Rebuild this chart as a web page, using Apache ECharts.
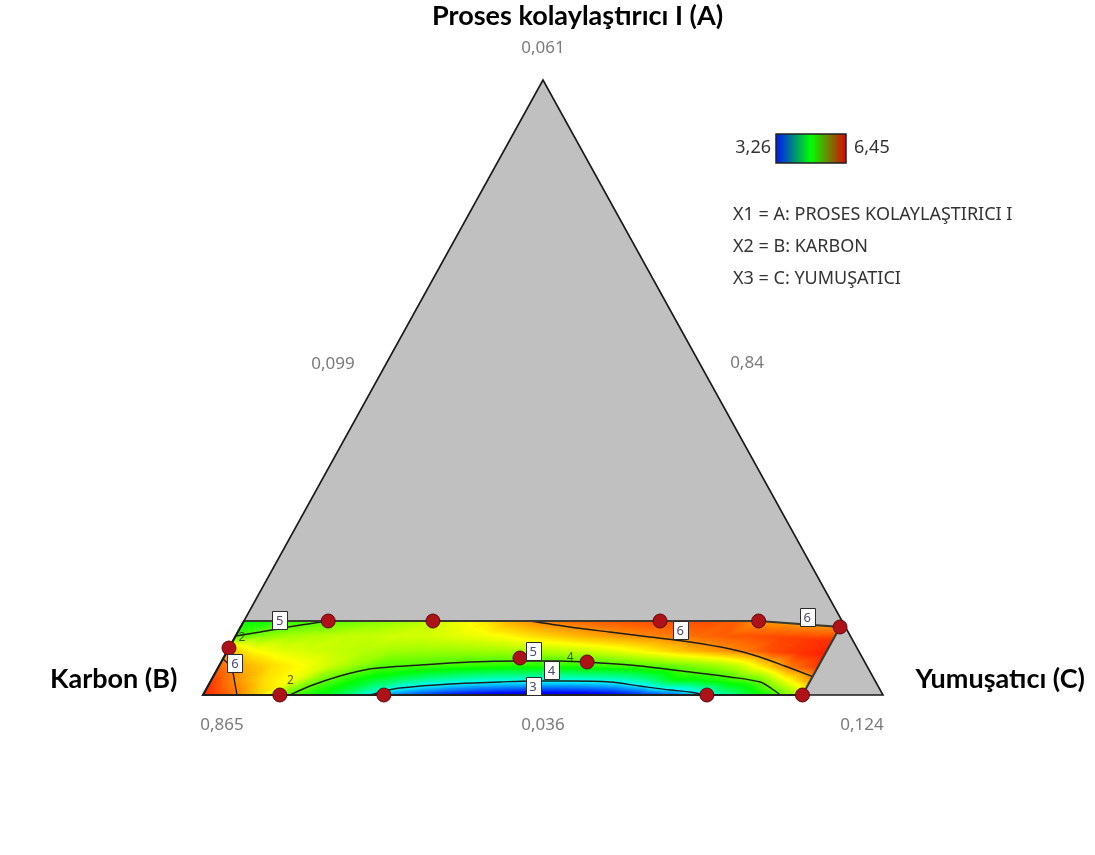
<!DOCTYPE html>
<html>
<head>
<meta charset="utf-8">
<script src="https://cdn.jsdelivr.net/npm/echarts@6/dist/echarts.min.js"></script>
<style>
  html, body { margin: 0; padding: 0; background: #ffffff; }
  #chart { width: 1095px; height: 855px; }
</style>
</head>
<body>
<div id="chart"></div>
<script>
// ---- Mixture design: components in pseudo-component fractions (a = A, c = C, b = 1 - a - c)
const componentNames = ['Proses kolaylaştırıcı I (A)', 'Karbon (B)', 'Yumuşatıcı (C)'];
const vertexLabels = ['0,061', '0,865', '0,124'];     // upper bounds of A, B, C at the vertices
const edgeLabels = ['0,036', '0,84', '0,099'];        // lower bounds of A, B, C on the opposite edges
const factorNotes = ['X1 = A: PROSES KOLAYLAŞTIRICI I', 'X2 = B: KARBON', 'X3 = C: YUMUŞATICI'];
const responseRange = ['3,26', '6,45'];

// feasible (constrained) region, vertices as [a, c]
const regionVertices = [[0, 0], [0.1203, 0], [0.1203, 0.757], [0.1106, 0.8815], [0, 0.8815]];

// predicted response on the region: 6 rows from the base (a = 0) up to the top edge,
// 23 columns from c = 0 to c = 0.8815
const fieldRows = [
  [6.35, 6.10, 5.75, 5.10, 4.80, 4.50, 4.05, 3.60, 3.40, 3.25, 3.15, 3.08, 3.05, 3.05, 3.08, 3.15, 3.30, 3.45, 3.75, 4.20, 4.55, 4.95, 5.50],
  [6.25, 5.95, 5.70, 5.55, 5.12, 4.85, 4.60, 4.40, 4.25, 4.15, 4.08, 4.05, 4.03, 4.03, 4.05, 4.10, 4.30, 4.70, 4.75, 4.90, 5.05, 5.50, 5.90],
  [6.10, 5.85, 5.70, 5.60, 5.45, 5.25, 5.03, 5.01, 4.97, 4.93, 4.90, 4.88, 4.88, 4.90, 4.95, 5.00, 5.07, 5.15, 5.25, 5.40, 5.70, 6.05, 6.25],
  [5.80, 5.60, 5.50, 5.45, 5.40, 5.35, 5.30, 5.28, 5.27, 5.28, 5.30, 5.33, 5.38, 5.43, 5.50, 5.60, 5.72, 5.85, 5.95, 6.05, 6.20, 6.28, 6.35],
  [5.00, 5.20, 5.30, 5.35, 5.40, 5.40, 5.45, 5.45, 5.50, 5.55, 5.62, 5.72, 5.80, 5.88, 5.95, 6.00, 6.05, 6.10, 6.15, 6.18, 6.22, 6.26, 6.30],
  [4.75, 4.80, 4.92, 5.00, 5.10, 5.20, 5.30, 5.40, 5.55, 5.70, 5.90, 6.03, 6.10, 6.15, 6.18, 6.20, 6.20, 6.20, 6.15, 5.95, 5.95, 5.95, 5.95]
];

// contour lines, points as [a, c]
const contour5Arch = [[0, 0.128], [0.0146, 0.150], [0.0309, 0.186], [0.0423, 0.224], [0.0488, 0.295], [0.0537, 0.366], [0.0553, 0.439], [0.0553, 0.497], [0.052, 0.558], [0.0472, 0.619], [0.0374, 0.698], [0.0293, 0.760], [0.0211, 0.809], [0.0098, 0.832], [0, 0.849]];
const contour4Arch = [[0, 0.246], [0.0065, 0.264], [0.0114, 0.284], [0.0179, 0.354], [0.0211, 0.426], [0.0228, 0.470], [0.0228, 0.528], [0.0211, 0.588], [0.0146, 0.635], [0.0081, 0.683], [0.0049, 0.714], [0, 0.738]];
const contour6Upper = [[0.1203, 0.421], [0.1106, 0.484], [0.1024, 0.547], [0.0943, 0.610], [0.0862, 0.673], [0.0748, 0.738], [0.0618, 0.788], [0.0472, 0.832], [0.030, 0.8815]];
const contour5Corner = [[0.0959, 0], [0.1024, 0.033], [0.1122, 0.079], [0.1203, 0.124]];
const contour6Corner = [[0.0585, 0], [0.0488, 0.014], [0.0374, 0.025], [0.0211, 0.036], [0, 0.050]];
const contourLines = [contour5Arch, contour4Arch, contour6Upper, contour5Corner, contour6Corner];

// contour level tags, positions as [a, c]
const contourTagLevels = [5, 6, 5, 4, 3, 6, 6];
const contourTagPos = [[0.122, 0.052], [0.052, 0.021], [0.0715, 0.450], [0.0407, 0.492], [0.0146, 0.478], [0.1057, 0.649], [0.1268, 0.825]];

// design points [a, c] and replicate counts
const designPoints = [[0.1203, 0.124], [0.1203, 0.278], [0.1203, 0.612], [0.1203, 0.757], [0.1106, 0.8815], [0.0764, 0], [0, 0.113], [0, 0.266], [0, 0.741], [0, 0.8815], [0.0602, 0.436], [0.0537, 0.538]];
const replicateCounts = ['2', '4', '2'];
const replicatePos = [[0.0228, 0.117], [0.0602, 0.510], [0.0927, 0.011]];

// ---- helpers
const toXY = ([a, c]) => [c + a / 2, a];   // ternary -> plane (A at the apex, B left, C right)
const cMax = regionVertices[4][1];
function topA(c) {
  const [p1, p2, p3] = [regionVertices[1], regionVertices[2], regionVertices[3]];
  if (c <= p2[1]) return p1[0];
  return p2[0] + (c - p2[1]) / (p3[1] - p2[1]) * (p3[0] - p2[0]);
}

// rainbow scale of the response surface
const scaleStops = [[2.8, [0, 0, 190]], [3.2, [0, 0, 255]], [3.95, [0, 255, 255]], [4.75, [0, 255, 0]], [5.6, [255, 255, 0]], [6.45, [255, 0, 0]]];
function colorAt(v) {
  if (v <= scaleStops[0][0]) return rgb(scaleStops[0][1]);
  for (let i = 1; i < scaleStops.length; i++) {
    if (v <= scaleStops[i][0]) {
      const [v0, c0] = scaleStops[i - 1], [v1, c1] = scaleStops[i];
      const t = (v - v0) / (v1 - v0);
      return rgb(c0.map((x, k) => x + (c1[k] - x) * t));
    }
  }
  return rgb(scaleStops[scaleStops.length - 1][1]);
}
function rgb(c) { return 'rgb(' + c.map(x => Math.round(x)).join(',') + ')'; }
function stopsBetween(vmin, vmax) {
  const out = [{ offset: 0, color: colorAt(vmin) }];
  scaleStops.forEach(([v]) => {
    if (v > vmin && v < vmax) out.push({ offset: (v - vmin) / (vmax - vmin), color: colorAt(v) });
  });
  out.push({ offset: 1, color: colorAt(vmax) });
  return out;
}
// triangle with linearly shaded response
function shadedTriangle(P) {
  const d1x = P[1].p[0] - P[0].p[0], d1y = P[1].p[1] - P[0].p[1];
  const d2x = P[2].p[0] - P[0].p[0], d2y = P[2].p[1] - P[0].p[1];
  const dv1 = P[1].v - P[0].v, dv2 = P[2].v - P[0].v;
  const det = d1x * d2y - d1y * d2x;
  const vs = P.map(q => q.v);
  const vmin = Math.min(...vs), vmax = Math.max(...vs);
  let fill;
  if (Math.abs(det) < 1e-9 || vmax - vmin < 1e-6) {
    fill = colorAt(vmin);
  } else {
    const al = (dv1 * d2y - dv2 * d1y) / det, be = (d1x * dv2 - d2x * dv1) / det;
    const g2 = al * al + be * be;
    const s = (vmin - P[0].v) / g2, e = (vmax - P[0].v) / g2;
    fill = new echarts.graphic.LinearGradient(
      P[0].p[0] + al * s, P[0].p[1] + be * s, P[0].p[0] + al * e, P[0].p[1] + be * e,
      stopsBetween(vmin, vmax), true);
  }
  return { type: 'polygon', silent: true, shape: { points: P.map(q => q.p) }, style: { fill: fill, stroke: fill, lineWidth: 0.8 } };
}

const nRows = fieldRows.length, nCols = fieldRows[0].length;
const cellData = [];
for (let j = 0; j < nRows - 1; j++) {
  for (let k = 0; k < nCols - 1; k++) {
    const c = cMax * (k + 0.5) / (nCols - 1);
    const xy = toXY([topA(c) * (j + 0.5) / (nRows - 1), c]);
    cellData.push([xy[0], xy[1], k, j]);
  }
}

const chart = echarts.init(document.getElementById('chart'), null, { renderer: 'canvas' });
const FONT = '"Noto Sans", "Open Sans", sans-serif';
const TITLE_FONT = 'Lato, "Open Sans", sans-serif';

const triangle = [[1, 0], [0, 0], [0, 1]];
const edgeMid = [[0, 0.5], [0.5, 0.5], [0.5, 0]];      // bottom, right, left edges
const vertexOffsets = [[0, -32], [19, 30], [-21, 30]];
const edgeOffsets = [[0, 30], [34, -24], [-40, -23]];

const option = {
  animation: false,
  backgroundColor: '#ffffff',
  grid: { left: 203, right: 212, top: 80, bottom: 160 },
  xAxis: { type: 'value', min: 0, max: 1, show: false },
  yAxis: { type: 'value', min: 0, max: 1, show: false },
  graphic: [
    { type: 'text', left: 432, top: 3, z: 20, style: { text: componentNames[0], font: 'bold 27px ' + TITLE_FONT, fill: '#000' } },
    { type: 'text', left: 50, top: 666, z: 20, style: { text: componentNames[1], font: 'bold 27px ' + TITLE_FONT, fill: '#000' } },
    { type: 'text', right: 10, top: 666, z: 20, style: { text: componentNames[2], font: 'bold 27px ' + TITLE_FONT, fill: '#000' } },
    { type: 'text', z: 20, style: { text: responseRange[0], x: 771, y: 148, align: 'right', verticalAlign: 'middle', font: '18px ' + FONT, fill: '#333' } },
    { type: 'rect', z: 20, shape: { x: 776, y: 134, width: 70, height: 29 },
      style: { fill: new echarts.graphic.LinearGradient(0, 0, 1, 0, [
        { offset: 0, color: '#0010ff' }, { offset: 0.5, color: '#00ff00' }, { offset: 1, color: '#e00000' }]),
        stroke: '#222', lineWidth: 1.5 } },
    { type: 'text', z: 20, style: { text: responseRange[1], x: 854, y: 148, align: 'left', verticalAlign: 'middle', font: '18px ' + FONT, fill: '#333' } },
    ...factorNotes.map((t, i) => ({ type: 'text', z: 20, style: { text: t, x: 733, y: 215 + i * 32, verticalAlign: 'middle', font: '18px ' + FONT, fill: '#333' } }))
  ],
  series: [
    { // simplex background
      type: 'custom', coordinateSystem: 'cartesian2d', z: 1, silent: true,
      data: [[0.5, 0.5]], encode: { x: 0, y: 1 },
      renderItem: (params, api) => ({
        type: 'polygon', shape: { points: triangle.map(p => api.coord(toXY(p))) },
        style: { fill: '#c0c0c0', stroke: 'none' }
      })
    },
    { // response surface over the constrained region
      type: 'custom', coordinateSystem: 'cartesian2d', z: 2, silent: true,
      data: cellData, encode: { x: 0, y: 1 },
      renderItem: (params, api) => {
        const k = api.value(2), j = api.value(3);
        const corners = [[j, k], [j, k + 1], [j + 1, k + 1], [j + 1, k]].map(([jj, kk]) => {
          const c = cMax * kk / (nCols - 1);
          const a = topA(c) * jj / (nRows - 1);
          return { p: api.coord(toXY([a, c])), v: fieldRows[jj][kk] };
        });
        return { type: 'group', children: [
          shadedTriangle([corners[0], corners[1], corners[2]]),
          shadedTriangle([corners[0], corners[2], corners[3]])
        ] };
      }
    },
    ...contourLines.map(pts => ({
      type: 'line', z: 4, silent: true, smooth: 0.3, symbol: 'none',
      data: pts.map(toXY),
      lineStyle: { color: '#1e1e1e', width: 1.4 }
    })),
    { // region outline and simplex edges
      type: 'custom', coordinateSystem: 'cartesian2d', z: 5, silent: true,
      data: [[0.5, 0.5]], encode: { x: 0, y: 1 },
      renderItem: (params, api) => ({ type: 'group', children: [
        { type: 'polygon', shape: { points: regionVertices.map(p => api.coord(toXY(p))) },
          style: { fill: 'none', stroke: '#3a3a32', lineWidth: 2.2 } },
        { type: 'polygon', shape: { points: triangle.map(p => api.coord(toXY(p))) },
          style: { fill: 'none', stroke: '#1a1a1a', lineWidth: 1.6 } }
      ] })
    },
    { // design points
      type: 'scatter', z: 6, silent: true, symbol: 'circle', symbolSize: 14,
      data: designPoints.map(toXY),
      itemStyle: { color: '#ad1218', borderColor: '#5e0a0a', borderWidth: 1, opacity: 1 }
    },
    { // replicate counts
      type: 'scatter', z: 7, silent: true, symbolSize: 0,
      data: replicatePos.map((p, i) => ({ value: toXY(p), name: replicateCounts[i] })),
      label: { show: true, position: 'inside', formatter: p => p.name, fontSize: 12, color: '#30302a', fontFamily: FONT }
    },
    { // contour level tags
      type: 'custom', coordinateSystem: 'cartesian2d', z: 8, silent: true,
      data: contourTagPos.map((p, i) => [...toXY(p), contourTagLevels[i]]), encode: { x: 0, y: 1 },
      renderItem: (params, api) => {
        const p = api.coord([api.value(0), api.value(1)]);
        return { type: 'group', children: [
          { type: 'rect', shape: { x: Math.round(p[0] - 7.5) + 0.5, y: Math.round(p[1] - 9) + 0.5, width: 15, height: 18 },
            style: { fill: '#ffffff', stroke: '#2b2b2b', lineWidth: 1 } },
          { type: 'text', style: { text: String(api.value(2)), x: p[0], y: p[1] + 1, align: 'center', verticalAlign: 'middle',
            font: '13px ' + FONT, fill: '#4a4a6e' } }
        ] };
      }
    },
    { // bound labels at vertices and edges
      type: 'scatter', z: 9, silent: true, symbolSize: 0,
      data: triangle.map((p, i) => ({ value: toXY(p), name: vertexLabels[i], off: vertexOffsets[i] }))
        .concat(edgeMid.map((p, i) => ({ value: toXY(p), name: edgeLabels[i], off: edgeOffsets[i] })))
        .map(d => ({ value: d.value, name: d.name, label: { offset: d.off } })),
      label: { show: true, position: 'inside', formatter: p => p.name, fontSize: 17, color: '#595959', fontFamily: FONT }
    }
  ]
};
chart.setOption(option);
</script>
</body>
</html>
